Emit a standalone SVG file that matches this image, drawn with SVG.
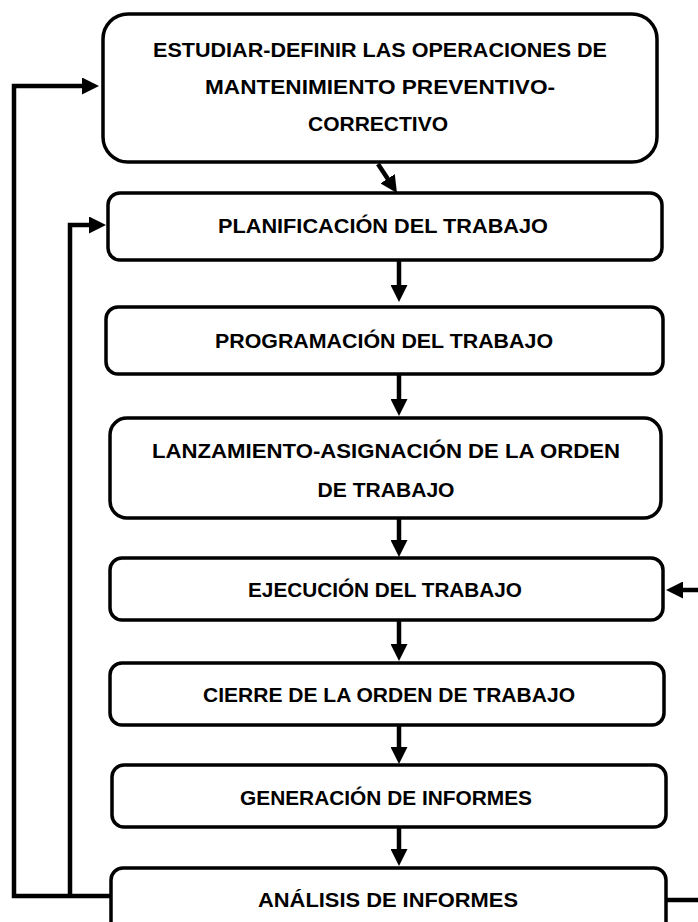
<svg xmlns="http://www.w3.org/2000/svg" width="698" height="922" viewBox="0 0 698 922">
  <style>
    .box { fill: #ffffff; stroke: #000000; stroke-width: 3.5; }
    .lbl { font-family: "Liberation Sans", Arial, sans-serif; font-weight: bold; font-size: 21px; fill: #000000; text-anchor: middle; }
    .conn { fill: none; stroke: #000000; stroke-width: 4.5; stroke-linejoin: miter; stroke-linecap: butt; }
  </style>
  <defs>
    <marker id="ah" markerUnits="userSpaceOnUse" viewBox="0 0 17 17" refX="7" refY="8.5" markerWidth="17" markerHeight="17" orient="auto">
      <path d="M0,0 L17,8.5 L0,17 Z" fill="#000000"/>
    </marker>
  </defs>
  <rect width="698" height="922" fill="#ffffff"/>

  <g id="connectors">
    <path class="conn" d="M378,164 L391.5,184.6" marker-end="url(#ah)"/>
    <path class="conn" d="M399,261 V292" marker-end="url(#ah)"/>
    <path class="conn" d="M399,375 V406" marker-end="url(#ah)"/>
    <path class="conn" d="M399,519 V547" marker-end="url(#ah)"/>
    <path class="conn" d="M399,621 V651" marker-end="url(#ah)"/>
    <path class="conn" d="M399,726 V754" marker-end="url(#ah)"/>
    <path class="conn" d="M399,828 V856" marker-end="url(#ah)"/>
    <path class="conn" d="M111,896 H14 V86 H89" marker-end="url(#ah)"/>
    <path class="conn" d="M70,896 V225 H96" marker-end="url(#ah)"/>
    <path class="conn" d="M666,900 H698"/>
    <path class="conn" d="M698,590 H676" marker-end="url(#ah)"/>
  </g>

  <g id="n1">
    <rect class="box" x="103" y="14" width="554" height="148" rx="25"/>
    <text class="lbl" x="380" y="57" textLength="454" lengthAdjust="spacingAndGlyphs">ESTUDIAR-DEFINIR LAS OPERACIONES DE</text>
    <text class="lbl" x="380" y="94" textLength="350" lengthAdjust="spacingAndGlyphs">MANTENIMIENTO PREVENTIVO-</text>
    <text class="lbl" x="378" y="131" textLength="140" lengthAdjust="spacingAndGlyphs">CORRECTIVO</text>
  </g>
  <g id="n2">
    <rect class="box" x="108" y="193" width="554" height="67" rx="12"/>
    <text class="lbl" x="383" y="233" textLength="330" lengthAdjust="spacingAndGlyphs">PLANIFICACIÓN DEL TRABAJO</text>
  </g>
  <g id="n3">
    <rect class="box" x="106" y="307" width="557" height="67" rx="12"/>
    <text class="lbl" x="384" y="348" textLength="338" lengthAdjust="spacingAndGlyphs">PROGRAMACIÓN DEL TRABAJO</text>
  </g>
  <g id="n4">
    <rect class="box" x="110" y="418" width="551" height="100" rx="17"/>
    <text class="lbl" x="386" y="458" textLength="468" lengthAdjust="spacingAndGlyphs">LANZAMIENTO-ASIGNACIÓN DE LA ORDEN</text>
    <text class="lbl" x="386" y="497" textLength="137" lengthAdjust="spacingAndGlyphs">DE TRABAJO</text>
  </g>
  <g id="n5">
    <rect class="box" x="110" y="558" width="553" height="62" rx="12"/>
    <text class="lbl" x="385" y="597" textLength="274" lengthAdjust="spacingAndGlyphs">EJECUCIÓN DEL TRABAJO</text>
  </g>
  <g id="n6">
    <rect class="box" x="110" y="663" width="554" height="62" rx="12"/>
    <text class="lbl" x="389" y="702" textLength="372" lengthAdjust="spacingAndGlyphs">CIERRE DE LA ORDEN DE TRABAJO</text>
  </g>
  <g id="n7">
    <rect class="box" x="112" y="765" width="554" height="62" rx="12"/>
    <text class="lbl" x="386" y="805" textLength="292" lengthAdjust="spacingAndGlyphs">GENERACIÓN DE INFORMES</text>
  </g>
  <g id="n8">
    <rect class="box" x="111" y="868" width="555" height="80" rx="12"/>
    <text class="lbl" x="388" y="907" textLength="260" lengthAdjust="spacingAndGlyphs">ANÁLISIS DE INFORMES</text>
  </g>
</svg>
